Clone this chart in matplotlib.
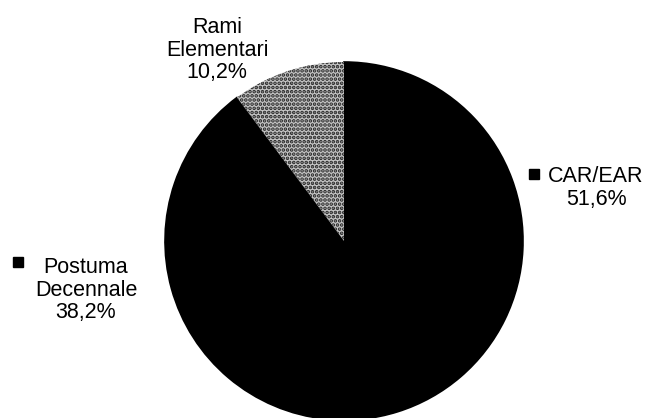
import matplotlib.pyplot as plt

plt.rcParams["font.family"] = ["Liberation Sans", "DejaVu Sans"]
plt.rcParams["hatch.linewidth"] = 1.8

labels = ["CAR/EAR", "Postuma\nDecennale", "Rami\nElementari"]
shares = [51.6, 38.2, 10.2]
colors = ["black", "black", "#c4c4c4"]
hatches = [None, None, "...."]


def pct(v):
    return f"{v:.1f}".replace(".", ",") + "%"


W, H = 645, 418
fig = plt.figure(figsize=(W / 100, H / 100), dpi=100)
ax = fig.add_axes([0, 0, 1, 1])

wedges, _ = ax.pie(shares, colors=colors, startangle=90, counterclock=False,
                   center=(344, H - 241), radius=179,
                   wedgeprops=dict(linewidth=1.2, edgecolor="black"))
for w, h in zip(wedges, hatches):
    if h:
        w.set_hatch(h)
        w.set_edgecolor("#222222")
        w.set_linewidth(0)

# pie() resets the view, so fix the pixel-sized limits afterwards
ax.set_xlim(0, W)
ax.set_ylim(0, H)
ax.set_aspect("equal")
ax.axis("off")

# labels in pixel-like coordinates (y measured from the top)
fs = 15.5
ax.text(596, H - 188, f"{labels[0]}\n{pct(shares[0])}", ha="center", va="center",
        fontsize=fs, linespacing=1.12)
ax.plot(534, H - 174, marker="s", markersize=7.5, color="black")

ax.text(86, H - 290, f"{labels[1]}\n{pct(shares[1])}", ha="center", va="center",
        fontsize=fs, linespacing=1.12)
ax.plot(18, H - 262, marker="s", markersize=6.5, color="black")

ax.text(217, H - 50, f"{labels[2]}\n{pct(shares[2])}", ha="center", va="center",
        fontsize=fs, linespacing=1.12)

fig.savefig("out.png", dpi=100, facecolor="white")
